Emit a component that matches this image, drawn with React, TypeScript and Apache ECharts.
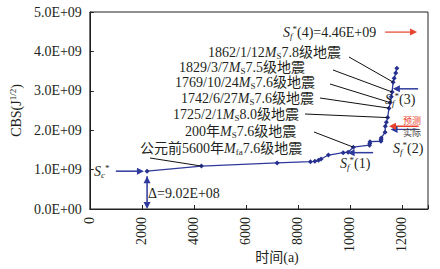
import React, { useEffect, useRef } from 'react';
import * as echarts from 'echarts';

// time (a) and cumulative Benioff strain CBS (×1e9 J^1/2)
const years = [2200, 4290, 7200, 8480, 8650, 8790, 8890, 9170, 9740, 9930, 10130, 10750, 10760, 10770, 11190, 11195, 11200, 11350, 11360, 11400, 11450, 11500, 11550, 11590, 11620, 11660, 11700, 11760, 11800];
const cbs = [0.96, 1.09, 1.17, 1.2, 1.21, 1.24, 1.27, 1.37, 1.43, 1.44, 1.57, 1.62, 1.66, 1.71, 1.72, 1.76, 1.8, 1.95, 2.1, 2.2, 2.32, 2.56, 2.7, 2.85, 2.97, 3.22, 3.32, 3.45, 3.57];

const xMin = 0;
const xMax = 13000;
const xStep = 2000;
const yMax = 5e9;
const yStep = 1e9;

const scLevel = 0.96e9; // S_c*
const delta = '9.02E+08';
const sf1Level = 1.43e9;
const sf2Level = 2.1e9;
const sf3Level = 3.05e9;
const sf4Text = '4.46E+09';

const FONT = "'Liberation Serif','Times New Roman','Noto Sans CJK SC',serif";
const TXT = '#231f20';
const BLUE = '#2f3a9c';
const RED = '#e8412c';

function fmtY(v: number) {
  if (v === 0) return '0.0E+00';
  const e = Math.floor(Math.log10(v) + 1e-9);
  const m = v / Math.pow(10, e);
  return m.toFixed(1) + 'E+' + String(e).padStart(2, '0');
}

const rich: any = {
  n: { fontSize: 14, fontFamily: FONT, color: TXT, lineHeight: 16 },
  i: { fontSize: 14, fontFamily: FONT, color: TXT, fontStyle: 'italic', lineHeight: 16 },
  sb: { fontSize: 9, fontFamily: FONT, color: TXT, verticalAlign: 'bottom' },
  si: { fontSize: 9, fontFamily: FONT, color: TXT, fontStyle: 'italic', verticalAlign: 'bottom' },
  sp: { fontSize: 9, fontFamily: FONT, color: TXT, verticalAlign: 'top' },
};

function arrowEls(x1: number, y1: number, x2: number, y2: number, color: string, opts: any = {}) {
  const head = opts.head ?? 7;
  const half = opts.half ?? 3.5;
  const width = opts.width ?? 1.5;
  const dx = x2 - x1, dy = y2 - y1;
  const len = Math.hypot(dx, dy) || 1;
  const ux = dx / len, uy = dy / len;
  const mk = (tx: number, ty: number, ax: number, ay: number) => {
    const bx = tx - ax * head, by = ty - ay * head;
    return {
      type: 'polygon', z: 20,
      shape: { points: [[tx, ty], [bx - ay * half, by + ax * half], [bx + ay * half, by - ax * half]] },
      style: { fill: color },
    };
  };
  const els: any[] = [
    { type: 'line', z: 19, shape: { x1, y1, x2: x2 - ux * head * 0.8, y2: y2 - uy * head * 0.8 }, style: { stroke: color, lineWidth: width } },
    mk(x2, y2, ux, uy),
  ];
  if (opts.both) els.push(mk(x1, y1, -ux, -uy));
  return els;
}

function text(x: number, y: number, t: string, extra: any = {}) {
  return {
    type: 'text', z: 30, x, y,
    style: { text: t, rich, fontFamily: FONT, fontSize: 14, fill: TXT, align: 'left', verticalAlign: 'middle', ...extra },
  };
}

function leader(x1: number, y1: number, p: number[]) {
  return { type: 'line', z: 18, shape: { x1, y1, x2: p[0], y2: p[1] }, style: { stroke: '#111', lineWidth: 1 } };
}

export default function App() {
  const ref = useRef<HTMLDivElement>(null);
  useEffect(() => {
    const chart = echarts.init(ref.current!, null, { renderer: 'svg' });
    chart.setOption({
      animation: false,
      backgroundColor: '#fff',
      grid: { left: 84, right: 12, top: 12, bottom: 60, show: true, borderColor: '#222', borderWidth: 1, backgroundColor: 'transparent' },
      xAxis: {
        type: 'value', min: xMin, max: xMax, interval: xStep,
        axisLine: { show: true, lineStyle: { color: '#222', width: 1 } },
        axisTick: { show: true, inside: true, length: 4, lineStyle: { color: '#222' } },
        splitLine: { show: false },
        axisLabel: {
          rotate: 90, margin: 8, fontFamily: FONT, fontSize: 14, color: TXT,
          formatter: (v: number) => (v % xStep === 0 ? String(v) : ''),
        },
      },
      yAxis: {
        type: 'value', min: 0, max: yMax, interval: yStep,
        name: '{n|CBS(J}{sp|1/2}{n|)}',
        nameLocation: 'middle', nameRotate: 90, nameGap: 64,
        nameTextStyle: { rich, fontFamily: FONT, fontSize: 14, color: TXT },
        axisLine: { show: true, lineStyle: { color: '#222', width: 1 } },
        axisTick: { show: true, inside: true, length: 4, lineStyle: { color: '#222' } },
        splitLine: { show: false },
        axisLabel: { margin: 8, fontFamily: FONT, fontSize: 14, color: TXT, formatter: fmtY },
      },
      series: [
        {
          type: 'line',
          data: years.map((x, i) => [x, cbs[i] * 1e9]),
          symbol: 'diamond', symbolSize: 5,
          lineStyle: { color: BLUE, width: 1.3 },
          itemStyle: { color: '#25308f' },
          z: 10,
        },
      ],
    });

    const P = (x: number, y: number) => chart.convertToPixel({ gridIndex: 0 }, [x, y]) as number[];
    const pt = (i: number) => P(years[i], cbs[i] * 1e9);
    const idx = (yr: number) => years.indexOf(yr);

    const g: any[] = [];
    // S_c* arrow
    const sc0 = P(1000, scLevel), sc1 = P(2080, scLevel);
    g.push(...arrowEls(sc0[0], sc0[1], sc1[0], sc1[1], BLUE));
    g.push(text(94, sc0[1], '{i|S}{si|c}{sp|*}'));
    // delta arrow
    const d0 = P(years[0], 0), d1 = P(years[0], cbs[0] * 1e9);
    g.push(...arrowEls(d1[0], d1[1] + 5, d0[0], d0[1], BLUE, { both: true }));
    g.push(text(148, 193, '{n|Δ=' + delta + '}'));

    // event labels
    g.push(text(140, 148, '{n|公元前5600年}{i|M}{sb|fa}{n|7.6级地震}'));
    g.push(leader(150, 158, pt(1)));
    g.push(text(185, 131, '{n|200年}{i|M}{sb|S}{n|7.6级地震}'));
    g.push(leader(314, 132, pt(idx(10130))));
    g.push(text(173, 114, '{n|1725/2/1}{i|M}{sb|S}{n|8.0级地震}'));
    g.push(leader(305, 114, pt(idx(11450))));
    g.push(text(181, 98, '{n|1742/6/27}{i|M}{sb|S}{n|7.6级地震}'));
    g.push(leader(320, 98, pt(idx(11500))));
    g.push(text(175, 82, '{n|1769/10/24}{i|M}{sb|S}{n|7.6级地震}'));
    g.push(leader(330, 84, pt(idx(11550))));
    g.push(text(179, 67, '{n|1829/3/7}{i|M}{sb|S}{n|7.5级地震}'));
    g.push(leader(333, 70, pt(idx(11620))));
    g.push(text(208, 52, '{n|1862/1/12}{i|M}{sb|S}{n|7.8级地震}'));
    g.push(leader(349, 57, pt(idx(11660))));

    // S_f*(4)
    const s40 = P(11350, 4.49e9), s41 = P(12580, 4.49e9);
    g.push(text(283, s40[1], '{i|S}{si|f}{sp|*}{n|(4)=' + sf4Text + '}'));
    g.push(...arrowEls(s40[0], s40[1], s41[0], s41[1], RED, { width: 1.2 }));
    // S_f*(3)
    const s30 = P(12620, sf3Level), s31 = P(11650, sf3Level);
    g.push(...arrowEls(s30[0], s30[1], s31[0], s31[1], BLUE));
    g.push(text(385, 99, '{i|S}{si|f}{sp|*}{n|(3)}'));
    // S_f*(2): predicted vs actual
    const s2b0 = P(12640, sf2Level - 0.08e9), s2b1 = P(11560, sf2Level - 0.08e9);
    g.push(...arrowEls(s2b0[0], s2b0[1], s2b1[0], s2b1[1], BLUE, { width: 1.2 }));
    const s20 = P(12640, sf2Level), s21 = P(11500, sf2Level);
    g.push(...arrowEls(s20[0], s20[1], s21[0], s21[1], RED, { width: 1.5 }));
    g.push(text(403, 120, '预测', { fontSize: 9, lineHeight: 10, fill: RED, fontFamily: "'Noto Sans CJK SC',sans-serif" }));
    g.push(text(403, 132, '实际', { fontSize: 9, lineHeight: 10, fill: '#444', fontFamily: "'Noto Sans CJK SC',sans-serif" }));
    g.push(text(393, 148, '{i|S}{si|f}{sp|*}{n|(2)}'));
    // S_f*(1)
    const s10 = P(10890, sf1Level), s11 = P(9910, sf1Level);
    g.push(...arrowEls(s10[0], s10[1], s11[0], s11[1], BLUE));
    g.push(text(340, 163, '{i|S}{si|f}{sp|*}{n|(1)}'));

    // x axis name
    g.push(text(277, 257, '{n|时间(a)}', { align: 'center' }));

    chart.setOption({ graphic: g });
    return () => chart.dispose();
  }, []);
  return <div ref={ref} style={{ position: 'fixed', left: 0, top: 0, width: 440, height: 269 }} />;
}
